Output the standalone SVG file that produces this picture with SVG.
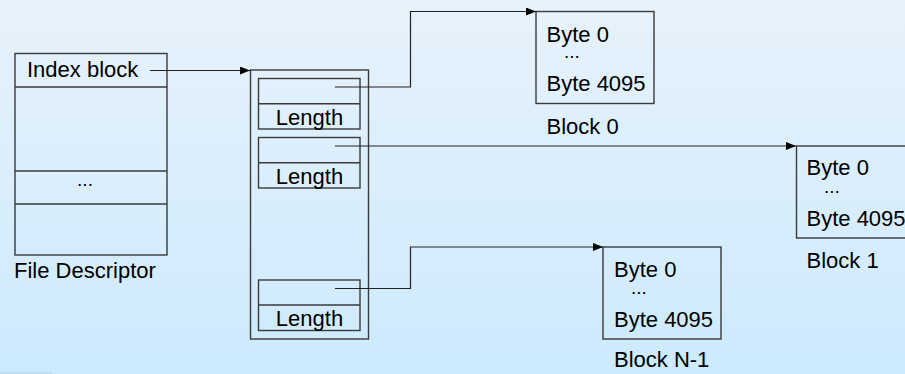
<svg xmlns="http://www.w3.org/2000/svg" width="905" height="374" viewBox="0 0 905 374">
  <defs>
    <linearGradient id="bg" x1="0" y1="0" x2="0" y2="1">
      <stop offset="0" stop-color="#e7f2fb"/>
      <stop offset="1" stop-color="#cdeafe"/>
    </linearGradient>
    <marker id="arrow" viewBox="0 0 10 8" refX="10" refY="4" markerWidth="10" markerHeight="8" markerUnits="userSpaceOnUse" orient="auto">
      <path d="M0,0 L10,4 L0,8 Z" fill="#000"/>
    </marker>
    <style>
      .box { fill: none; stroke: #3a3a3a; stroke-width: 1.4; }
      .sep { stroke: #3a3a3a; stroke-width: 1.4; }
      .link { fill: none; stroke: #222; stroke-width: 1.2; }
      .arr { marker-end: url(#arrow); }
      text { font-family: "Liberation Sans", Arial, sans-serif; font-size: 22px; fill: #000; }
      .mid { text-anchor: middle; }
      .dots { font-size: 19px; }
    </style>
  </defs>

  <rect width="905" height="374" fill="url(#bg)"/>
  <rect x="0" y="372" width="52" height="2" fill="#c0dcf5"/>

  <!-- file descriptor table -->
  <g id="file-descriptor">
    <rect class="box" x="15" y="53.5" width="152" height="201.5"/>
    <line class="sep" x1="15" y1="87" x2="167" y2="87"/>
    <line class="sep" x1="15" y1="171" x2="167" y2="171"/>
    <line class="sep" x1="15" y1="204" x2="167" y2="204"/>
    <text x="27" y="77">Index block</text>
    <text class="mid dots" x="85" y="186">...</text>
    <text x="14" y="278">File Descriptor</text>
  </g>

  <!-- index block with entries -->
  <g id="index-block">
    <rect class="box" x="250.5" y="70" width="118" height="269"/>
    <rect class="box" x="258.5" y="78.5" width="101.5" height="50.5"/>
    <line class="sep" x1="258.5" y1="103.7" x2="360" y2="103.7"/>
    <text class="mid" x="309.5" y="125">Length</text>
    <rect class="box" x="258.5" y="137.5" width="101.5" height="50.5"/>
    <line class="sep" x1="258.5" y1="162.7" x2="360" y2="162.7"/>
    <text class="mid" x="309.5" y="184">Length</text>
    <rect class="box" x="258.5" y="280" width="101.5" height="50.5"/>
    <line class="sep" x1="258.5" y1="305" x2="360" y2="305"/>
    <text class="mid" x="309.5" y="326">Length</text>
  </g>

  <!-- data blocks -->
  <g id="block-0">
    <rect class="box" x="536" y="11.5" width="118" height="92"/>
    <text x="546.5" y="42">Byte 0</text>
    <text class="dots" x="564" y="58">...</text>
    <text x="546.5" y="91">Byte 4095</text>
    <text x="546.5" y="134">Block 0</text>
  </g>

  <g id="block-1">
    <rect class="box" x="796.5" y="146" width="118" height="92"/>
    <text x="806.5" y="175">Byte 0</text>
    <text class="dots" x="824" y="193">...</text>
    <text x="806.5" y="226">Byte 4095</text>
    <text x="806.5" y="268">Block 1</text>
  </g>

  <g id="block-n-1">
    <rect class="box" x="603" y="247" width="118" height="92"/>
    <text x="614" y="277">Byte 0</text>
    <text class="dots" x="631" y="294">...</text>
    <text x="614" y="327">Byte 4095</text>
    <text x="614" y="367">Block N-1</text>
  </g>

  <!-- connectors -->
  <g id="connectors">
    <path class="link arr" d="M150,70.5 H250"/>
    <path class="link arr" d="M335,87 H410.5 V11.5 H536"/>
    <path class="link arr" d="M335,146 H796"/>
    <path class="link arr" d="M335,288.5 H410.5 V247 H603"/>
  </g>
</svg>
